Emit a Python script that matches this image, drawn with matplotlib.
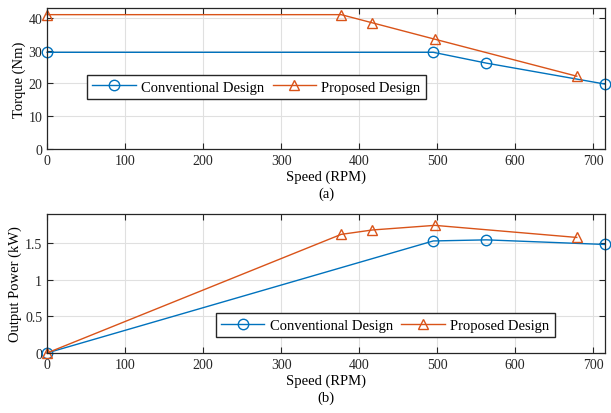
import numpy as np
import matplotlib
matplotlib.use("Agg")
import matplotlib.pyplot as plt

# data
conv_speed = [0, 495, 563, 715]
conv_torque = [29.5, 29.5, 26.2, 19.8]
prop_speed = [0, 377, 417, 497, 679]
prop_torque = [41.0, 41.0, 38.5, 33.5, 22.2]

conv_power = [0.0, 1.53, 1.545, 1.482]
prop_power = [0.0, 1.62, 1.68, 1.743, 1.578]

xticks = [0, 100, 200, 300, 400, 500, 600, 700]
torque_ticks = [0, 10, 20, 30, 40]
power_ticks = [0, 0.5, 1, 1.5]
power_ticklabels = ["0", "0.5", "1", "1.5"]

blue = "#0072BD"
orange = "#D95319"

plt.rcParams['font.family'] = ['Liberation Serif', 'DejaVu Serif']
plt.rcParams['font.size'] = 10

fig = plt.figure(figsize=(6.11, 4.14), dpi=100)
ax1 = fig.add_axes([0.077, 0.638, 0.913, 0.340])
ax2 = fig.add_axes([0.077, 0.145, 0.913, 0.336])


def style(ax):
    ax.grid(True, color="#e0e0e0", linewidth=0.8)
    ax.set_axisbelow(True)
    ax.tick_params(direction="in", top=True, right=True, labelsize=10, length=4,
                   colors="#262626")
    for s in ax.spines.values():
        s.set_color("#262626")
        s.set_linewidth(0.9)
    ax.set_xlim(0, 715)
    ax.set_xticks(xticks)


mk = dict(fillstyle="none", markersize=7.5, linewidth=1.0, markeredgewidth=1.0)
leg = dict(loc="center", ncol=2, fontsize=10.5, fancybox=False, edgecolor="#262626",
           framealpha=1, handlelength=3.0, borderpad=0.35, columnspacing=0.6,
           handletextpad=0.35, borderaxespad=0)

ax1.plot(conv_speed, conv_torque, "-o", color=blue, label="Conventional Design", clip_on=False, **mk)
ax1.plot(prop_speed, prop_torque, "-^", color=orange, label="Proposed Design", clip_on=False, **mk)
style(ax1)
ax1.set_ylim(0, 43)
ax1.set_yticks(torque_ticks)
ax1.set_xlabel("Speed (RPM)\n(a)", fontsize=10.5, labelpad=2, linespacing=1.3)
ax1.set_ylabel("Torque (Nm)", fontsize=10.5, labelpad=2)
ax1.legend(bbox_to_anchor=(0.375, 0.44), **leg)

ax2.plot(conv_speed, conv_power, "-o", color=blue, label="Conventional Design", clip_on=False, **mk)
ax2.plot(prop_speed, prop_power, "-^", color=orange, label="Proposed Design", clip_on=False, **mk)
style(ax2)
ax2.set_ylim(0, 1.9)
ax2.set_yticks(power_ticks)
ax2.set_yticklabels(power_ticklabels)
ax2.set_xlabel("Speed (RPM)\n(b)", fontsize=10.5, labelpad=2, linespacing=1.3)
ax2.set_ylabel("Output Power (kW)", fontsize=10.5, labelpad=2)
ax2.legend(bbox_to_anchor=(0.606, 0.20), **leg)

fig.savefig("out.png", dpi=100)
